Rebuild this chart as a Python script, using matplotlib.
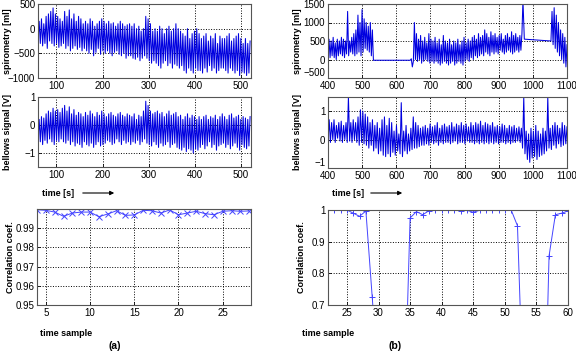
import numpy as np
import matplotlib
matplotlib.use("Agg")
import matplotlib.pyplot as plt

# ---- (a) spirometry / bellows, one peak + one trough per breath, t = 60..520 s
spiro_a_peaks = [150, 200, 100, 250, 300, 350, 420, 300, 250, 200,
                 150, 350, 250, 380, 200, 300, 150, 250, 200, 100,
                 150, 100, 200, 150, 50, 100, 150, 200, 150, 100,
                 150, 100, 120, 50, 100, 150, 100, 50, 80, 100,
                 50, 100, 0, 50, -50, 0, 250, 200, 100, -50,
                 0, -50, 50, 0, -100, 0, 50, -50, 0, 100,
                 0, -50, -100, -150, 0, -200, -100, -50, 0, -100,
                 -200, -150, -100, -250, -150, -200, -100, -300, -150, -200,
                 -200, -150, -100, -250, -200, -150, -100, -200, -300, -200,
                 -300, -250]
spiro_a_troughs = [-250, -300, -350, -300, -400, -250, -300, -350, -300, -380,
                   -350, -300, -400, -350, -450, -400, -350, -420, -380, -450,
                   -400, -450, -500, -420, -550, -480, -400, -520, -450, -500,
                   -450, -500, -550, -480, -450, -520, -550, -500, -600, -550,
                   -550, -600, -620, -580, -650, -600, -550, -600, -650, -700,
                   -650, -700, -750, -800, -700, -650, -750, -700, -800, -720,
                   -750, -800, -750, -850, -900, -800, -850, -900, -800, -850,
                   -850, -900, -800, -880, -750, -850, -800, -900, -850, -800,
                   -800, -850, -900, -800, -850, -900, -850, -950, -880, -900,
                   -950, -900]
bell_a_peaks = [0.2, 0.3, 0.25, 0.4, 0.5, 0.45, 0.6, 0.5, 0.55, 0.45,
                0.6, 0.7, 0.5, 0.65, 0.4, 0.55, 0.35, 0.45, 0.4, 0.3,
                0.45, 0.35, 0.5, 0.4, 0.3, 0.45, 0.35, 0.5, 0.4, 0.3,
                0.4, 0.45, 0.35, 0.3, 0.4, 0.45, 0.35, 0.3, 0.4, 0.35,
                0.3, 0.4, 0.2, 0.35, 0.3, 0.5, 0.85, 0.7, 0.5, 0.4,
                0.45, 0.5, 0.4, 0.45, 0.3, 0.4, 0.5, 0.35, 0.4, 0.45,
                0.3, 0.35, 0.2, 0.3, 0.4, 0.25, 0.35, 0.3, 0.2, 0.3,
                0.2, 0.3, 0.35, 0.2, 0.3, 0.25, 0.35, 0.2, 0.3, 0.4,
                0.3, 0.2, 0.35, 0.4, 0.25, 0.3, 0.35, 0.2, 0.3, 0.25,
                0.2, 0.3]
bell_a_troughs = [-0.5, -0.6, -0.7, -0.55, -0.65, -0.5, -0.6, -0.7, -0.55, -0.6,
                  -0.5, -0.6, -0.65, -0.55, -0.7, -0.6, -0.75, -0.65, -0.7, -0.8,
                  -0.6, -0.7, -0.75, -0.65, -0.8, -0.7, -0.6, -0.75, -0.7, -0.65,
                  -0.55, -0.6, -0.7, -0.65, -0.5, -0.6, -0.7, -0.55, -0.65, -0.6,
                  -0.7, -0.6, -0.65, -0.55, -0.7, -0.6, -0.5, -0.65, -0.7, -0.75,
                  -0.6, -0.7, -0.8, -0.65, -0.75, -0.7, -0.6, -0.8, -0.7, -0.65,
                  -0.8, -0.85, -0.9, -0.8, -0.95, -0.85, -0.9, -1.0, -0.85, -0.9,
                  -0.8, -0.7, -0.85, -0.75, -0.6, -0.8, -0.7, -0.9, -0.75, -0.7,
                  -0.65, -0.8, -0.7, -0.85, -0.75, -0.65, -0.8, -0.9, -0.7, -0.8,
                  -0.85, -0.75]

# ---- (b) spirometry, 400..1100 s, split into breathing segments and flat parts
spiro_b1_peaks = [550, 500, 600, 450, 550, 500, 600, 550, 500, 1300, 500,
                  600, 700, 800, 1200, 1000, 1350, 1100, 1000, 900, 1000, 800]
spiro_b1_troughs = [0, 50, 100, 50, 0, 100, 150, 100, 50, 150, 100,
                    200, 150, 100, 150, 200, 100, 200, 300, 250, 200, 100]
spiro_b_gap1_t = [533, 641, 644, 647]
spiro_b_gap1_v = [-20, -20, 20, -200]
spiro_b2_peaks = [1000, 700, 550, 650, 500, 600, 450, 700, 550, 500,
                  600, 450, 550, 400, 650, 500, 450, 550, 400, 500,
                  450, 550, 400, 500, 600, 450, 550, 500, 600, 650,
                  550, 700, 600, 650, 800, 700, 600, 750, 650, 700,
                  600, 650, 700, 550, 650, 700, 600, 750, 650, 700,
                  600, 650, 700]
spiro_b2_troughs = [-50, 0, -50, 0, -100, -50, 0, -50, -100, -50,
                    -100, -50, -100, -150, -100, -50, -100, -150, -100, -50,
                    -150, -100, -50, -100, -150, -50, 0, -50, 50, 0,
                    100, 50, 100, 150, 100, 200, 150, 100, 200, 150,
                    200, 150, 250, 200, 150, 200, 250, 200, 150, 200,
                    250, 200, 250]
spiro_b_gap2_t = [971, 975, 1050]
spiro_b_gap2_v = [1600, 550, 500]
spiro_b3_peaks = [1300, 1400, 1200, 1000, 800, 700, 600, 400]
spiro_b3_troughs = [500, 400, 300, 200, 100, 0, -100, -200]

bell_b_peaks = [0.7, 0.6, 0.7, 0.5, 0.6, 0.65, 0.5, 0.6, 1.5, 0.6,
                0.7, 0.6, 0.8, 1.05, 1.0, 0.9, 0.8, 0.6, 0.7, 0.5,
                0.6, 0.4, 0.7, 0.8, 0.5, 0.75, 0.6, 0.3, 0.5, 0.2,
                1.3, 0.3, 0.5, 0.2, 0.4, 0.8, 0.6, 0.5, 0.4, 0.45,
                0.5, 0.4, 0.55, 0.45, 0.5, 0.6, 0.4, 0.5, 0.55, 0.45,
                0.5, 0.6, 0.45, 0.55, 0.5, 0.6, 0.5, 0.55, 0.45, 0.6,
                0.5, 0.6, 0.55, 0.65, 0.5, 0.6, 0.55, 0.5, 0.6, 0.45,
                0.5, 0.45, 0.55, 0.5, 0.4, 0.5, 0.45, 0.5, 0.4, 0.45,
                0.4, 1.5, 0.3, 0.2, 0.4, 0.3, 0.5, 0.3, 0.2, 0.4,
                0.3, 1.5, 0.4, 0.5, 0.6, 0.5, 0.4, 0.6, 0.5, 0.45]
bell_b_troughs = [-0.05, -0.1, 0.0, -0.1, 0.05, -0.05, -0.1, 0.0, -0.1, -0.05,
                  -0.1, 0.0, -0.1, -0.2, -0.1, -0.15, -0.2, -0.3, -0.2, -0.4,
                  -0.3, -0.5, -0.4, -0.55, -0.6, -0.5, -0.6, -0.45, -0.55, -0.4,
                  -0.5, -0.6, -0.4, -0.5, -0.4, -0.35, -0.3, -0.3, -0.25, -0.2,
                  -0.2, -0.15, -0.2, -0.1, -0.15, -0.1, -0.2, -0.1, -0.15, -0.1,
                  -0.1, -0.15, -0.1, -0.05, -0.15, -0.1, -0.1, -0.15, -0.05, -0.1,
                  -0.1, -0.15, -0.1, -0.15, -0.1, -0.15, -0.1, -0.15, -0.1, -0.15,
                  -0.1, -0.15, -0.1, -0.1, -0.15, -0.1, -0.15, -0.1, -0.1, -0.05,
                  -0.1, -0.3, -0.5, -0.7, -0.8, -0.65, -0.6, -0.7, -0.6, -0.55,
                  -0.5, -0.4, -0.3, -0.35, -0.2, -0.3, -0.15, -0.25, -0.2, -0.15]

# ---- correlation coefficients per time sample
corr_a_x = list(range(4, 29))
corr_a = [0.9996, 0.9993, 0.9984, 0.9962, 0.9979, 0.9984, 0.9984, 0.9960, 0.9974,
          0.9991, 0.9967, 0.9969, 0.9993, 0.9991, 0.9979, 0.9995, 0.9970, 0.9979,
          0.9988, 0.9976, 0.9970, 0.9988, 0.9991, 0.9988, 0.9990]
corr_b_x = list(range(22, 61))
corr_b = [1.0, 1.0, 1.0, 1.0, 0.99, 0.98, 0.997, 0.725, 0.45, 0.40,
          0.42, 0.38, 0.29, 0.975, 0.995, 0.985, 0.998, 0.999, 0.999, 0.999,
          1.0, 0.998, 0.999, 0.993, 0.999, 0.999, 0.999, 0.999, 1.0, 1.0,
          0.95, 0.35, 0.30, 0.20, 0.08, 0.855, 0.985, 0.99, 0.997]


def breaths(t0, t1, peaks, troughs):
    # trough then peak for every breath, evenly spread over [t0, t1]
    v = np.column_stack([troughs, peaks]).ravel()
    return np.linspace(t0, t1, len(v)), v


W, H = 576, 360
plt.rcParams['font.family'] = ['Liberation Sans', 'DejaVu Sans']
fig = plt.figure(figsize=(W / 100, H / 100), dpi=100)


def add_ax(x0, x1, top, bot):
    ax = fig.add_axes([x0 / W, 1 - bot / H, (x1 - x0) / W, (bot - top) / H])
    ax.grid(True, color='black', linestyle=':', linewidth=0.7)
    ax.tick_params(direction='in', length=2, labelsize=7, pad=2, width=0.6)
    for s in ax.spines.values():
        s.set_color('#555555')
        s.set_linewidth(0.8)
    return ax


def lift_lowest_ylabel(ax):
    # the bottom y label sits just above the first x label, as in the original
    fig.canvas.draw()
    ax.get_yticklabels()[0].set_va('bottom')


def px_text(x, y, s, **kw):
    fig.text(x / W, 1 - y / H, s, **kw)


trace = dict(color='#0000e0', linewidth=0.75)
corr_c = '#4444ff'

# (a) top
ax = add_ax(38, 251, 4, 78)
t, v = breaths(60, 520, spiro_a_peaks, spiro_a_troughs)
ax.plot(t, v, **trace)
ax.set_xlim(60, 522)
ax.set_ylim(-1000, 500)
ax.set_xticks([100, 200, 300, 400, 500])
ax.set_yticks([-1000, -500, 0, 500])

ax = add_ax(38, 251, 97, 167)
t, v = breaths(60, 520, bell_a_peaks, bell_a_troughs)
ax.plot(t, v, **trace)
ax.set_xlim(60, 522)
ax.set_ylim(-1.5, 1)
ax.set_xticks([100, 200, 300, 400, 500])
ax.set_yticks([-1, 0, 1])

ax = add_ax(37, 251, 209, 305)
ax.plot(corr_a_x, corr_a, color=corr_c, linewidth=0.7, marker='x', markersize=4,
        markeredgewidth=0.7)
ax.set_xlim(4, 28.2)
ax.set_ylim(0.95, 1.0)
ax.set_xticks([5, 10, 15, 20, 25])
ax.set_yticks([0.95, 0.96, 0.97, 0.98, 0.99])
ax.set_yticklabels(['0.95', '0.96', '0.97', '0.98', '0.99'])

# (b) right column
ax_b1 = add_ax(328, 567, 4, 78)
t1, v1 = breaths(400, 530, spiro_b1_peaks, spiro_b1_troughs)
t2, v2 = breaths(650, 968, spiro_b2_peaks, spiro_b2_troughs)
t3, v3 = breaths(1053, 1100, spiro_b3_peaks, spiro_b3_troughs)
t = np.concatenate([t1, spiro_b_gap1_t, t2, spiro_b_gap2_t, t3])
v = np.concatenate([v1, spiro_b_gap1_v, v2, spiro_b_gap2_v, v3])
ax_b1.plot(t, v, **trace)
ax_b1.set_xlim(400, 1100)
ax_b1.set_ylim(-500, 1500)
ax_b1.set_xticks(range(400, 1101, 100))
ax_b1.set_yticks([-500, 0, 500, 1000, 1500])

ax_b2 = add_ax(328, 567, 97, 168)
t, v = breaths(400, 1100, bell_b_peaks, bell_b_troughs)
ax_b2.plot(t, v, **trace)
ax_b2.set_xlim(400, 1100)
ax_b2.set_ylim(-1, 1.5)
ax_b2.set_xticks(range(400, 1101, 100))
ax_b2.set_yticks([-1, 0, 1])

ax = add_ax(328, 568, 210, 305)
ax.plot(corr_b_x, corr_b, color=corr_c, linewidth=0.7, marker='+', markersize=5,
        markeredgewidth=0.7)
ax.set_xlim(22, 60)
ax.set_ylim(0.7, 1.0)
ax.set_xticks(range(25, 61, 5))
ax.set_yticks([0.7, 0.8, 0.9, 1.0])
ax.set_yticklabels(['0.7', '0.8', '0.9', '1'])

lift_lowest_ylabel(ax_b1)
lift_lowest_ylabel(ax_b2)

# labels
lab = dict(fontsize=6.5, fontweight='bold', rotation=90, ha='center', va='center')
for xl in (8, 298):
    px_text(xl, 41, 'spirometry [ml]', **lab)
    px_text(xl, 132, 'bellows signal [V]', **lab)
    px_text(xl + 3, 257, 'Correlation coef.', **lab)

for x_txt, x_a0, x_a1 in ((42, 80, 117), (332, 368, 405)):
    px_text(x_txt, 193, 'time [s]', fontsize=6.5, fontweight='bold', va='center')
    fig.add_artist(matplotlib.patches.FancyArrowPatch(
        (x_a0 / W, 1 - 193 / H), (x_a1 / W, 1 - 193 / H), transform=fig.transFigure,
        arrowstyle='-|>', mutation_scale=6, linewidth=0.8, color='black'))

px_text(40, 333, 'time sample', fontsize=6.5, fontweight='bold', va='center')
px_text(302, 333, 'time sample', fontsize=6.5, fontweight='bold', va='center')
px_text(115, 346, '(a)', fontsize=7.5, fontweight='bold', ha='center', va='center')
px_text(395, 346, '(b)', fontsize=7.5, fontweight='bold', ha='center', va='center')

fig.savefig('out.png', dpi=100)
